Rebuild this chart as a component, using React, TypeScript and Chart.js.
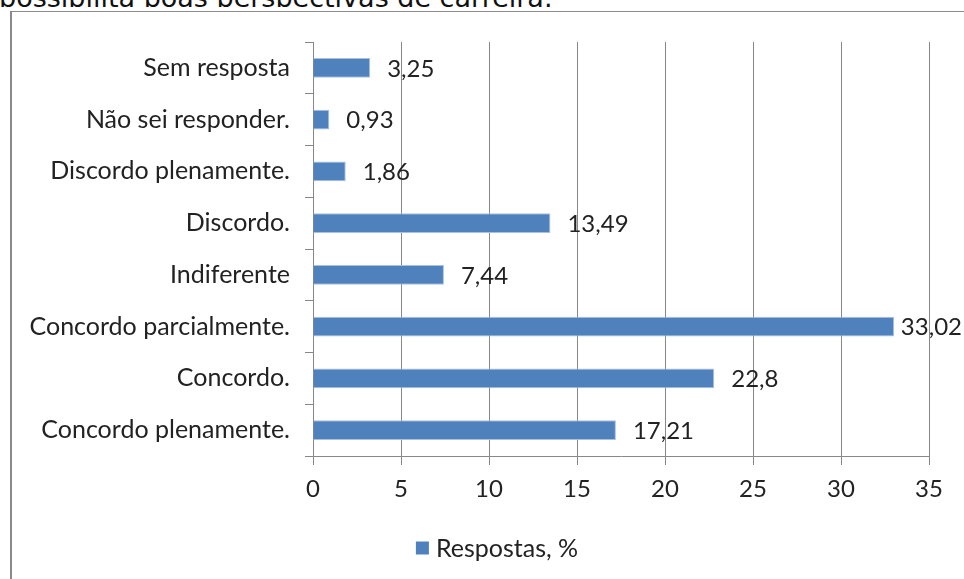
import React, { useEffect, useRef } from "react";
import { Chart, registerables } from "chart.js";

Chart.register(...registerables);

const TITLE = "possibilita boas perspectivas de carreira.";
const categories = [
  "Sem resposta",
  "Não sei responder.",
  "Discordo plenamente.",
  "Discordo.",
  "Indiferente",
  "Concordo parcialmente.",
  "Concordo.",
  "Concordo plenamente.",
];
const values = [3.25, 0.93, 1.86, 13.49, 7.44, 33.02, 22.8, 17.21];
const seriesName = "Respostas, %";
const xMin = 0;
const xMax = 35;
const xStep = 5;

const FONT = "Lato";
const FONT_SIZE = 24;
const CAT_FONT_SIZE = 25;
const TEXT_COLOR = "#222222";
const GRID_COLOR = "#888888";
const BAR_COLOR = "#4F81BD";
const BAR_EDGE = "#A9C1E0";

const fmt = (v: number) => String(v).replace(".", ",");

// value labels placed just past the end of each bar
const valueLabels = {
  id: "valueLabels",
  afterDatasetsDraw(chart: any) {
    const ctx = chart.ctx;
    const meta = chart.getDatasetMeta(0);
    ctx.save();
    ctx.font = `${FONT_SIZE}px ${FONT}`;
    ctx.fillStyle = TEXT_COLOR;
    ctx.textAlign = "left";
    ctx.textBaseline = "middle";
    meta.data.forEach((bar: any, i: number) => {
      const text = fmt(values[i]);
      const w = ctx.measureText(text).width;
      let x = bar.x + 17;
      const limit = chart.width - 20;
      if (x + w > limit) x = limit - w;
      ctx.fillText(text, x, bar.y + 1);
    });
    ctx.restore();
  },
};

// single-entry legend centred under the plot
const bottomLegend = {
  id: "bottomLegend",
  afterDraw(chart: any) {
    const ctx = chart.ctx;
    ctx.save();
    ctx.font = `${CAT_FONT_SIZE}px ${FONT}`;
    const box = 13;
    const gap = 7;
    const tw = ctx.measureText(seriesName).width;
    const total = box + gap + tw;
    const cx = chart.width / 2;
    const cy = chart.height - 31;
    const x0 = cx - total / 2;
    ctx.fillStyle = BAR_COLOR;
    ctx.fillRect(x0, cy - box / 2, box, box);
    ctx.fillStyle = TEXT_COLOR;
    ctx.textAlign = "left";
    ctx.textBaseline = "middle";
    ctx.fillText(seriesName, x0 + box + gap, cy + 1);
    ctx.restore();
  },
};

export default function App() {
  const ref = useRef<HTMLCanvasElement>(null);

  useEffect(() => {
    const chart = new Chart(ref.current!, {
      type: "bar",
      data: {
        labels: categories,
        datasets: [
          {
            label: seriesName,
            data: values,
            backgroundColor: BAR_COLOR,
            borderColor: BAR_EDGE,
            borderWidth: 1,
            categoryPercentage: 1,
            barPercentage: 0.38,
          },
        ],
      },
      options: {
        indexAxis: "y",
        responsive: false,
        animation: false,
        devicePixelRatio: 1,
        layout: { padding: { top: 28, right: 53, left: 0, bottom: 63 } },
        plugins: {
          legend: { display: false },
          tooltip: { enabled: false },
        },
        scales: {
          x: {
            min: xMin,
            max: xMax,
            ticks: {
              stepSize: xStep,
              color: TEXT_COLOR,
              font: { family: FONT, size: FONT_SIZE },
              padding: 10,
            },
            grid: { color: GRID_COLOR, lineWidth: 1, tickLength: 9 },
            border: { color: GRID_COLOR, width: 1 },
            afterFit: (s: any) => {
              s.height = 60;
            },
          },
          y: {
            offset: true,
            ticks: {
              color: TEXT_COLOR,
              font: { family: FONT, size: CAT_FONT_SIZE },
              padding: 15,
            },
            grid: {
              drawOnChartArea: false,
              color: GRID_COLOR,
              tickLength: 8,
              offset: true,
            },
            border: { color: GRID_COLOR, width: 1 },
            afterFit: (s: any) => {
              s.width = 301;
            },
          },
        },
      },
      plugins: [valueLabels, bottomLegend],
    });
    return () => chart.destroy();
  }, []);

  return (
    <div
      style={{
        position: "fixed",
        left: 0,
        top: 0,
        width: 964,
        height: 579,
        overflow: "hidden",
        background: "#ffffff",
      }}
    >
      <div
        style={{
          position: "absolute",
          left: 0,
          top: 0,
          width: 964,
          height: 7,
          overflow: "hidden",
        }}
      >
        <div
          style={{
            position: "absolute",
            left: -1,
            top: -16.3,
            font: '27px "DejaVu Sans"',
            lineHeight: "27px",
            whiteSpace: "nowrap",
            color: "#111111",
          }}
        >
          {TITLE}
        </div>
      </div>
      <div
        style={{
          position: "absolute",
          left: 10,
          top: 11,
          width: 972,
          height: 600,
          borderLeft: "2px solid #8a8a8a",
          borderTop: "1px solid #8a8a8a",
          boxSizing: "border-box",
        }}
      >
        <canvas ref={ref} width={970} height={567} style={{ display: "block" }} />
      </div>
    </div>
  );
}
